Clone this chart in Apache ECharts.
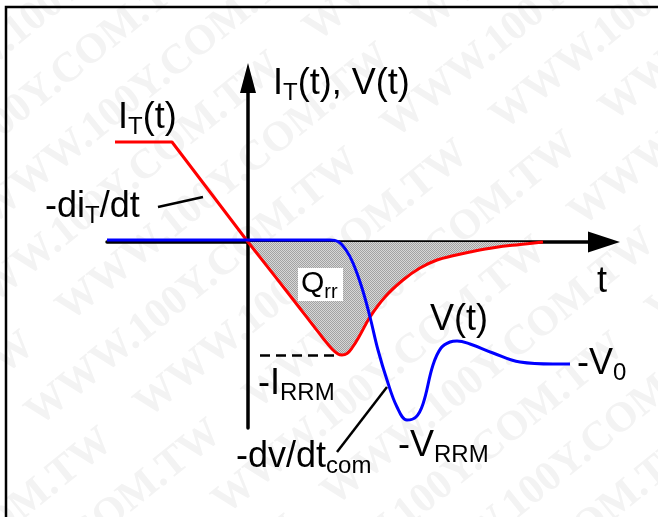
<!DOCTYPE html>
<html>
<head>
<meta charset="utf-8">
<script src="https://cdn.jsdelivr.net/npm/echarts@6/dist/echarts.min.js"></script>
<style>
  html, body { margin: 0; padding: 0; background: #fff; }
  #chart { width: 658px; height: 517px; }
</style>
</head>
<body>
<div id="chart"></div>
<script>
// I_T(t) vor dem Nulldurchgang: konstant, dann lineare Rampe -di/dt
const rampT = [-13.3, -7.6, 0]
const rampI = [10, 10, 0]

// Rückstrom nach dem Nulldurchgang (Q_rr-Fläche)
const recT = [0, 4, 7.6, 8.4, 9.0, 9.4, 9.9, 10.4, 11.2, 12.2, 13.7, 15.5, 17.2, 18.9, 20.6, 22.2, 24.7, 27.2, 29.5]
const recI = [0, -5.1, -9.75, -10.7, -11.2, -11.3, -11.15, -10.6, -9.3, -7.5, -5.5, -3.8, -2.6, -1.8, -1.35, -1.0, -0.55, -0.25, 0]

// Spannung V(t)
const volT = [-14.1, 8.2, 9.0, 9.8, 10.5, 11.4, 12.2, 13.0, 13.9, 14.9, 15.9, 16.8, 17.5, 18.5, 19.3, 20.2, 20.9, 22.2, 24.5, 27.2, 30.5, 32.2]
const volV = [0.2, 0.2, 0.05, -0.8, -2.1, -4.6, -7.5, -10.8, -13.8, -16.5, -17.8, -17.5, -16.2, -12.3, -10.6, -10.0, -9.9, -10.2, -11.1, -12.0, -12.2, -12.2]

const FONT = '"Liberation Sans", Arial, sans-serif'
const zip = (a, b) => a.map((v, i) => [v, b[i]])

// Punktraster für die Q_rr-Fläche
const pat = document.createElement('canvas')
pat.width = 2
pat.height = 2
const pctx = pat.getContext('2d')
pctx.fillStyle = '#d6d6d6'
pctx.fillRect(0, 0, 2, 2)
pctx.fillStyle = '#a2a2a2'
pctx.fillRect(0, 0, 1, 1)
pctx.fillRect(1, 1, 1, 1)

// Textmessung für Beschriftungen mit Index
const mctx = document.createElement('canvas').getContext('2d')
const measure = (txt, size) => {
  mctx.font = size + 'px ' + FONT
  return mctx.measureText(txt).width
}
const midToBase = (size) => {
  mctx.font = size + 'px ' + FONT
  mctx.textBaseline = 'middle'
  return mctx.measureText('H').actualBoundingBoxDescent
}

// parts: [text, istIndex]
const label = (x, base, parts, size = 36, sub = 24) => {
  const out = []
  let cx = x
  parts.forEach(([txt, isSub]) => {
    const s = isSub ? sub : size
    const b = isSub ? base + 6 : base
    out.push({
      type: 'text',
      z: 30,
      x: cx,
      y: b - midToBase(s),
      style: { text: txt, font: s + 'px ' + FONT, fill: '#000', align: 'left', verticalAlign: 'middle' }
    })
    cx += measure(txt, s)
  })
  return out
}

const line = (x1, y1, x2, y2) => ({
  type: 'line',
  z: 30,
  shape: { x1, y1, x2, y2 },
  style: { stroke: '#000', lineWidth: 2.5 }
})

// Wasserzeichen
const wmRows = []
for (let i = -6; i <= 6; i++) {
  wmRows.push({
    type: 'text',
    x: -700 + (i % 2) * 90,
    y: i * 62,
    style: {
      text: 'WWW.100Y.COM.TW    WWW.100Y.COM.TW    WWW.100Y.COM.TW    WWW.100Y.COM.TW',
      font: 'bold 42px "Liberation Serif", serif',
      fill: '#f3f3f3',
      verticalAlign: 'middle'
    }
  })
}

const chart = echarts.init(document.getElementById('chart'))

const axisCommon = {
  type: 'value',
  axisTick: { show: false },
  axisLabel: { show: false },
  splitLine: { show: false }
}

const option = {
  backgroundColor: '#fff',
  animation: false,
  grid: { left: 107, right: 54, top: 78, bottom: 89 },
  xAxis: {
    ...axisCommon,
    min: -14.1,
    max: 35.6,
    axisLine: {
      onZero: true,
      symbol: ['none', 'triangle'],
      symbolSize: [21, 32],
      lineStyle: { color: '#000', width: 3.5 }
    }
  },
  yAxis: {
    ...axisCommon,
    min: -18.6,
    max: 16.4,
    axisLine: {
      onZero: true,
      symbol: ['none', 'triangle'],
      symbolSize: [16, 30],
      lineStyle: { color: '#000', width: 3.5 }
    }
  },
  series: [
    {
      name: 'IT_ramp',
      type: 'line',
      data: zip(rampT, rampI),
      showSymbol: false,
      lineStyle: { color: '#ff0000', width: 3 }
    },
    {
      name: 'IT_rec',
      type: 'line',
      data: zip(recT, recI),
      smooth: 0.4,
      showSymbol: false,
      lineStyle: { color: '#ff0000', width: 3 },
      areaStyle: { color: { image: pat, repeat: 'repeat' }, opacity: 1 },
      markLine: {
        silent: true,
        symbol: 'none',
        label: { show: false },
        lineStyle: { color: '#000', width: 2.5, type: [10, 6] },
        data: [[{ coord: [1.2, Math.min(...recI)] }, { coord: [9.2, Math.min(...recI)] }]]
      }
    },
    {
      name: 'V',
      type: 'line',
      data: zip(volT, volV),
      smooth: 0.4,
      showSymbol: false,
      lineStyle: { color: '#0000ff', width: 3 }
    }
  ],
  graphic: [
    { type: 'group', x: 329, y: 258, rotation: 0.68, z: -1, children: wmRows },
    {
      type: 'rect',
      z: 30,
      shape: { x: 6, y: 7, width: 800, height: 700 },
      style: { fill: 'none', stroke: '#000', lineWidth: 2.5 }
    },
    { type: 'rect', z: 29, shape: { x: 298, y: 268, width: 45, height: 33 }, style: { fill: '#fff' } },
    ...label(273, 94, [['I', 0], ['T', 1], ['(t), V(t)', 0]]),
    ...label(118, 128, [['I', 0], ['T', 1], ['(t)', 0]]),
    ...label(45, 217, [['-di', 0], ['T', 1], ['/dt', 0]]),
    ...label(597, 292, [['t', 0]]),
    ...label(301, 292, [['Q', 0], ['rr', 1]], 30, 20),
    ...label(430, 330, [['V(t)', 0]]),
    ...label(577, 374, [['-V', 0], ['0', 1]]),
    ...label(258, 394, [['-I', 0], ['RRM', 1]]),
    ...label(236, 467, [['-dv/dt', 0], ['com', 1]]),
    ...label(398, 456, [['-V', 0], ['RRM', 1]]),
    line(158, 207, 203, 197),
    line(337, 452, 387, 387)
  ]
}

chart.setOption(option)
</script>
</body>
</html>
